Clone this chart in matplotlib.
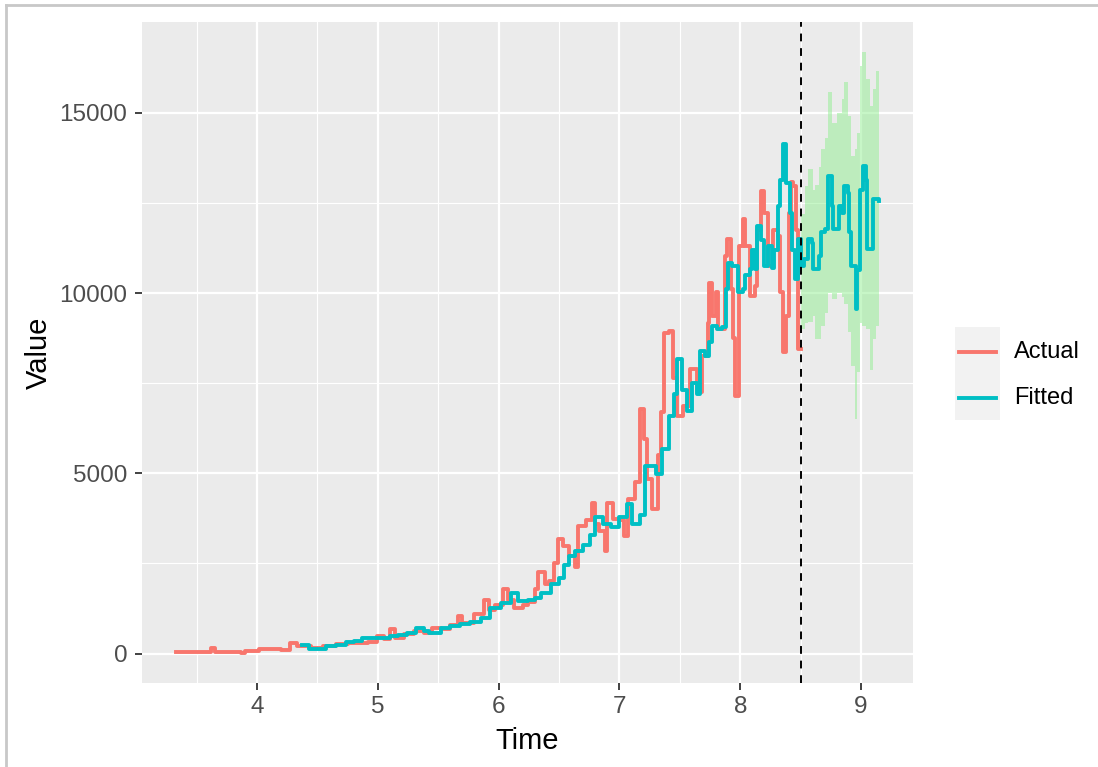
import numpy as np
import matplotlib.pyplot as plt
from matplotlib.lines import Line2D
from matplotlib.patches import Rectangle

plt.rcParams["font.family"] = ["Liberation Sans", "DejaVu Sans"]

# ------------------------------------------------------------
# Data
# ------------------------------------------------------------

actual_t = [3.33, 3.45, 3.60, 3.62, 3.65, 3.84, 3.87, 3.90, 4.02, 4.20,
            4.27, 4.33, 4.37, 4.45, 4.55, 4.65, 4.75, 4.85, 4.92, 4.99,
            5.05, 5.10, 5.14, 5.22, 5.30, 5.38, 5.45, 5.52, 5.60, 5.66,
            5.70, 5.80, 5.88, 5.92, 5.97, 6.04, 6.08, 6.13, 6.20, 6.24,
            6.30, 6.33, 6.38, 6.42, 6.46, 6.49, 6.53, 6.58, 6.63, 6.66,
            6.72, 6.77, 6.80, 6.83, 6.88, 6.90, 6.95, 7.00, 7.04, 7.07,
            7.13, 7.17, 7.20, 7.23, 7.27, 7.32, 7.34, 7.37, 7.41, 7.44,
            7.48, 7.53, 7.58, 7.64, 7.68, 7.73, 7.74, 7.77, 7.80, 7.82,
            7.87, 7.89, 7.92, 7.94, 7.96, 7.98, 7.99, 8.02, 8.04, 8.08,
            8.12, 8.14, 8.17, 8.20, 8.23, 8.27, 8.31, 8.33, 8.35, 8.38,
            8.40, 8.42, 8.44, 8.46, 8.48, 8.50]
actual_v = [55, 55, 55, 150, 55, 55, 25, 80, 140, 100,
            280, 220, 200, 150, 200, 260, 300, 300, 320, 500,
            400, 670, 420, 550, 620, 560, 700, 680, 800, 1030,
            840, 1100, 1500, 1220, 1350, 1780, 1500, 1270, 1350, 1420,
            1800, 2250, 1920, 2000, 2500, 3170, 2980, 2700, 2400, 3530,
            3700, 4190, 3600, 3400, 2850, 4190, 3720, 3700, 3250, 4300,
            4750, 6780, 5940, 4840, 4000, 5510, 6700, 8900, 8950, 7640,
            6590, 6870, 7890, 7260, 8250, 9180, 10290, 9360, 10020, 9000,
            11030, 11500, 10120, 8750, 7140, 7140, 11310, 12050, 11300, 9930,
            10200, 11760, 12830, 12220, 10750, 11760, 11570, 10020, 8360, 9360,
            12220, 13080, 12970, 11760, 8440, 8440]

fitted_t = [4.37, 4.43, 4.50, 4.57, 4.65, 4.74, 4.80, 4.87, 4.95, 5.02,
            5.10, 5.17, 5.24, 5.32, 5.38, 5.42, 5.52, 5.60, 5.68, 5.76,
            5.85, 5.93, 6.02, 6.10, 6.16, 6.24, 6.30, 6.35, 6.43, 6.50,
            6.54, 6.58, 6.63, 6.70, 6.76, 6.80, 6.86, 6.93, 7.00, 7.06,
            7.10, 7.17, 7.21, 7.27, 7.30, 7.35, 7.41, 7.45, 7.48, 7.52,
            7.56, 7.60, 7.64, 7.67, 7.71, 7.74, 7.77, 7.81, 7.85, 7.88,
            7.90, 7.93, 7.98, 8.02, 8.04, 8.08, 8.10, 8.12, 8.14, 8.17,
            8.20, 8.23, 8.26, 8.28, 8.31, 8.33, 8.35, 8.38, 8.41, 8.43,
            8.45, 8.48, 8.50, 8.53, 8.56, 8.59, 8.60, 8.65, 8.67, 8.70,
            8.73, 8.76, 8.77, 8.82, 8.84, 8.86, 8.89, 8.90, 8.92, 8.96,
            8.97, 8.99, 9.02, 9.04, 9.05, 9.08, 9.10, 9.15]
fitted_v = [250, 130, 130, 220, 250, 310, 360, 440, 430, 440,
            480, 520, 580, 720, 640, 580, 720, 760, 810, 880,
            1000, 1260, 1400, 1690, 1450, 1500, 1550, 1690, 1920, 2100,
            2450, 2700, 2850, 3000, 3300, 3800, 3600, 3500, 3800, 4140,
            3600, 3850, 5200, 5200, 4980, 5670, 6580, 7200, 8170, 7300,
            6740, 7500, 7200, 8380, 8250, 8650, 9080, 9000, 9050, 10100,
            10830, 10750, 10020, 10100, 10500, 10670, 11200, 10670, 11850, 11480,
            10750, 11300, 10700, 11200, 12420, 13150, 14140, 13050, 12220, 11200,
            10390, 11510, 10750, 10940, 11500, 11400, 10670, 11030, 11690, 11780,
            13250, 12410, 11780, 12410, 12220, 12970, 12780, 11690, 10750, 9550,
            10650, 12870, 13530, 13150, 11220, 11220, 12600, 12560]

band_t = [8.50, 8.54, 8.56, 8.60, 8.62, 8.65, 8.67, 8.70, 8.73, 8.76,
          8.80, 8.84, 8.86, 8.89, 8.92, 8.95, 8.97, 8.99, 9.01, 9.04,
          9.07, 9.10, 9.12, 9.15]
band_lo = [9000, 9170, 9200, 9360, 8720, 8720, 9100, 9440, 10000, 9830,
           10000, 9900, 9700, 8910, 7970, 6500, 7800, 9170, 9100, 9000,
           7880, 8720, 9080, 9000]
band_hi = [12200, 12970, 13440, 12870, 13000, 13500, 14000, 14300, 15580, 14720,
           15000, 15390, 15860, 14900, 13800, 14000, 14440, 16300, 16690, 15950,
           15200, 15670, 16170, 16170]

split_time = 8.5
series_names = ["Actual", "Fitted"]
series_colors = ["#F8766D", "#00BFC4"]

# ------------------------------------------------------------
# Figure
# ------------------------------------------------------------

W, H = 1098, 767
fig = plt.figure(figsize=(W / 100, H / 100), dpi=100)
ax = fig.add_axes([142 / W, 1 - 683 / H, (913 - 142) / W, (683 - 22) / H])
ax.set_facecolor("#EBEBEB")

ax.fill_between(band_t, band_lo, band_hi, step="post",
                color="lightgreen", alpha=0.5, linewidth=0, zorder=2)
ax.plot(actual_t, actual_v, drawstyle="steps-post", color=series_colors[0],
        lw=2.8, zorder=3)
ax.plot(fitted_t, fitted_v, drawstyle="steps-post", color=series_colors[1],
        lw=2.8, zorder=4)
ax.axvline(split_time, color="black", lw=1.4, ls=(0, (4, 3.5)), zorder=5)

ax.set_xlim(3.048, 9.43)
ax.set_ylim(-816, 17520)
ax.set_xticks([4, 5, 6, 7, 8, 9])
ax.set_xticks([3.5, 4.5, 5.5, 6.5, 7.5, 8.5], minor=True)
ax.set_yticks([0, 5000, 10000, 15000])
ax.set_yticks([2500, 7500, 12500], minor=True)
ax.grid(which="major", color="white", lw=1.6, zorder=0)
ax.grid(which="minor", color="white", lw=0.8, zorder=0)
ax.set_axisbelow(True)
for s in ax.spines.values():
    s.set_visible(False)
ax.tick_params(which="major", length=5, width=1.3, color="#333333",
               labelsize=17.5, labelcolor="#4D4D4D")
ax.tick_params(axis="x", pad=4.5)
ax.tick_params(axis="y", pad=5.5)
ax.tick_params(which="minor", length=0)

ax.set_xlabel("Time", fontsize=21, color="black", labelpad=6)
ax.set_ylabel("Value", fontsize=21, color="black", labelpad=5)

# legend drawn by hand, ggplot style
fig.add_artist(Rectangle((955 / W, 1 - 420 / H), 45 / W, 93 / H,
                         transform=fig.transFigure, facecolor="#F2F2F2",
                         edgecolor="none"))
for i, (name, col) in enumerate(zip(series_names, series_colors)):
    yk = 1 - (352 + 46 * i) / H
    fig.add_artist(Line2D([959 / W, 996 / W], [yk, yk], color=col, lw=2.8,
                          transform=fig.transFigure))
    fig.text(1014 / W, yk, name, fontsize=17, color="black", va="center")

# window frame of the screenshot
fig.add_artist(Line2D([6 / W, 6 / W], [0, 1 - 5 / H], color="#C8C8C8", lw=2,
                      transform=fig.transFigure))
fig.add_artist(Line2D([6 / W, 1], [1 - 5 / H, 1 - 5 / H], color="#C8C8C8",
                      lw=2, transform=fig.transFigure))

fig.savefig("out.png", dpi=100)
